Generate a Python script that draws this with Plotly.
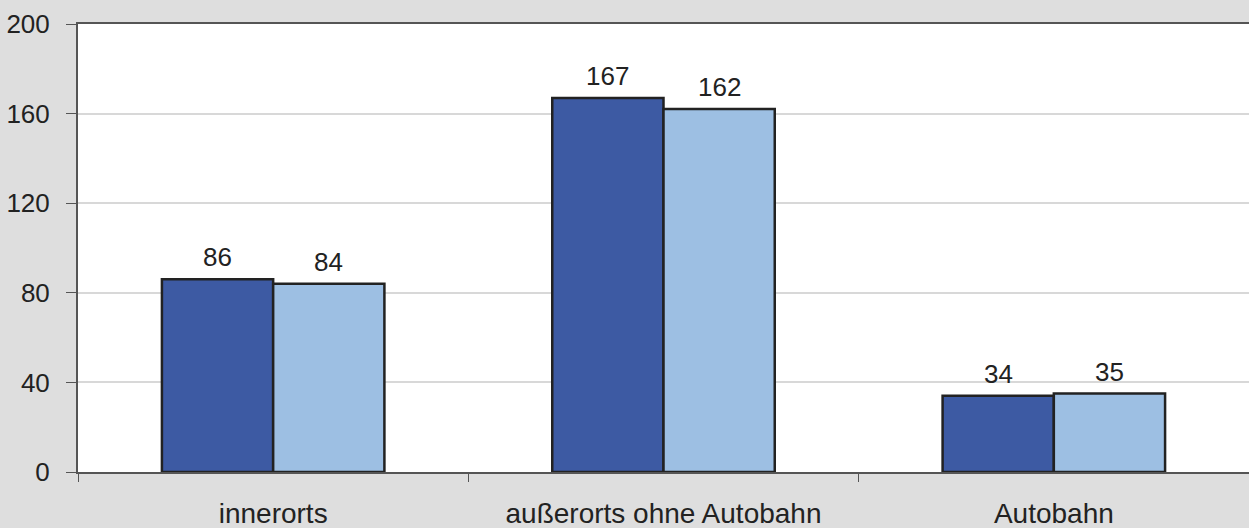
import plotly.graph_objects as go

categories = ["innerorts", "außerorts ohne Autobahn", "Autobahn"]
series_a = [86, 167, 34]
series_b = [84, 162, 35]
y_ticks = [0, 40, 80, 120, 160, 200]

dark = "#3D5AA3"
light = "#9DBFE3"
edge = "#222222"
bg = "#DEDEDE"

fig = go.Figure()
fig.add_trace(go.Bar(x=categories, y=series_a, marker=dict(color=dark, line=dict(color=edge, width=2.5)),
                     showlegend=False, hoverinfo="skip"))
fig.add_trace(go.Bar(x=categories, y=series_b, marker=dict(color=light, line=dict(color=edge, width=2.5)),
                     showlegend=False, hoverinfo="skip"))

fam = "Liberation Sans, Arial, sans-serif"
font = dict(family=fam, size=26, color="#222222")

annotations = []
for i, c in enumerate(categories):
    for val, off in ((series_a[i], -0.143), (series_b[i], 0.143)):
        annotations.append(dict(x=i + off, y=val, xref="x", yref="y", text=str(val), showarrow=False,
                                yanchor="bottom", yshift=5, font=dict(family=fam, size=26, color="#222222")))

fig.update_layout(
    width=1249, height=528,
    margin=dict(l=78, r=0, t=24, b=56),
    paper_bgcolor=bg, plot_bgcolor="white",
    barmode="group", bargap=0.43, bargroupgap=0,
    font=font,
    annotations=annotations,
    xaxis=dict(showline=True, linecolor="#555555", linewidth=2, mirror=True,
               ticks="outside", tickson="boundaries", ticklen=8, tickcolor="#555555", tickwidth=1,
               showgrid=False, range=[-0.5, 2.5], tickfont=dict(size=28), ticklabelstandoff=15),
    yaxis=dict(range=[0, 200], tickvals=y_ticks, showline=True, linecolor="#555555", linewidth=2,
               ticks="outside", ticklen=10, tickcolor="#555555", tickwidth=1,
               showgrid=True, gridcolor="#D8D8D8", gridwidth=2, zeroline=False,
               tickfont=dict(size=26), ticklabelstandoff=11),
)

fig.write_html("out.html", config={"displayModeBar": False},
               post_script="document.body.style.margin='0';document.body.style.background='#DEDEDE';")
